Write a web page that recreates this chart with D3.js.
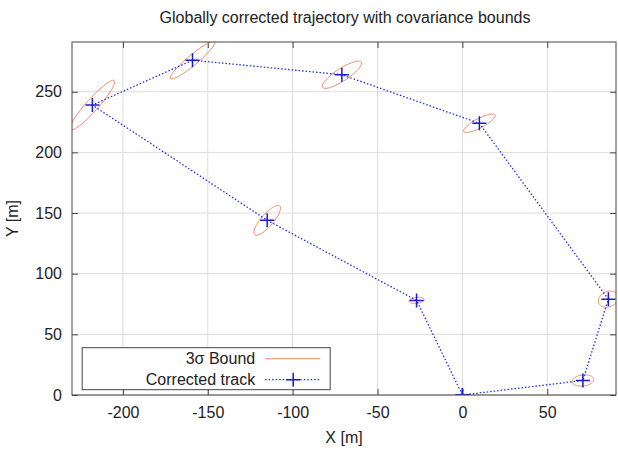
<!DOCTYPE html>
<html>
<head>
<meta charset="utf-8">
<script src="https://cdn.jsdelivr.net/npm/d3@7"></script>
<style>
  body { margin: 0; background: #fff; }
  text { font-family: "Liberation Sans", Arial, sans-serif; fill: #222; }
</style>
</head>
<body>
<div id="chart"></div>
<script>
// corrected track (closed loop), metres
const trackX = [0, 71, 86, 10, -71, -159, -218, -115, -27, 0];
const trackY = [0, 12, 79, 224, 264, 276, 239, 144, 78, 0];

// 3-sigma ellipses at each pose: semi axes (m) and angle (deg, data space)
const ellX = [71, 86, 10, -71, -159, -218, -115, -27];
const ellY = [12, 79, 224, 264, 276, 239, 144, 78];
const ellA = [6.5, 7, 11.5, 15.5, 20, 24, 14, 4.5];
const ellB = [4.5, 5.5, 3.5, 4.5, 3.5, 4, 4, 2.5];
const ellAng = [15, 60, 38, 44, 50, 58, 60, 10];

const xTicks = [-200, -150, -100, -50, 0, 50];
const yTicks = [0, 50, 100, 150, 200, 250];

const width = 618, height = 449;
const margin = { top: 42, right: 2, bottom: 54, left: 72 };
const w = width - margin.left - margin.right;
const h = height - margin.top - margin.bottom;
const fs = '16px';

const svg = d3.select('#chart').append('svg')
  .attr('width', width)
  .attr('height', height);

const g = svg.append('g').attr('transform', `translate(${margin.left},${margin.top})`);

const x = d3.scaleLinear().domain([-230, 90.5]).range([0, w]);
const y = d3.scaleLinear().domain([0, 291]).range([h, 0]);

// grid
g.append('g').selectAll('line').data(xTicks).join('line')
  .attr('x1', d => x(d)).attr('x2', d => x(d))
  .attr('y1', 0).attr('y2', h)
  .attr('stroke', '#dcdcdc').attr('stroke-width', 1);
g.append('g').selectAll('line').data(yTicks).join('line')
  .attr('y1', d => y(d)).attr('y2', d => y(d))
  .attr('x1', 0).attr('x2', w)
  .attr('stroke', '#dcdcdc').attr('stroke-width', 1);

// axes with inward ticks, mirrored
const styleAxis = sel => {
  sel.select('.domain').remove();
  sel.selectAll('line').attr('stroke', '#444');
  sel.selectAll('text').style('font-size', fs).attr('fill', '#222');
};
const fmt = d => String(d);
g.append('g').attr('transform', `translate(0,${h})`)
  .call(d3.axisBottom(x).tickValues(xTicks).tickSizeInner(-6).tickSizeOuter(0).tickPadding(12).tickFormat(fmt))
  .call(styleAxis);
g.append('g')
  .call(d3.axisTop(x).tickValues(xTicks).tickSizeInner(-6).tickSizeOuter(0).tickFormat(''))
  .call(styleAxis);
g.append('g')
  .call(d3.axisLeft(y).tickValues(yTicks).tickSizeInner(-6).tickSizeOuter(0).tickPadding(10).tickFormat(fmt))
  .call(styleAxis);
g.append('g').attr('transform', `translate(${w},0)`)
  .call(d3.axisRight(y).tickValues(yTicks).tickSizeInner(-6).tickSizeOuter(0).tickFormat(''))
  .call(styleAxis);

svg.append('defs').append('clipPath').attr('id', 'clip')
  .append('rect').attr('width', w).attr('height', h);

const plot = g.append('g').attr('clip-path', 'url(#clip)');

// ellipses
const ellLine = d3.line().x(p => x(p[0])).y(p => y(p[1]));
const ellipses = ellX.map((cx, i) => {
  const a = ellA[i], b = ellB[i], th = ellAng[i] * Math.PI / 180;
  return d3.range(0, 73).map(k => {
    const t = k / 72 * 2 * Math.PI;
    const ex = a * Math.cos(t), ey = b * Math.sin(t);
    return [cx + ex * Math.cos(th) - ey * Math.sin(th), ellY[i] + ex * Math.sin(th) + ey * Math.cos(th)];
  });
});
plot.selectAll('.ell').data(ellipses).join('path')
  .attr('class', 'ell')
  .attr('d', ellLine)
  .attr('fill', 'none')
  .attr('stroke', '#f08a6a')
  .attr('stroke-width', 1);

// track
const track = trackX.map((v, i) => [v, trackY[i]]);
plot.append('path')
  .attr('d', d3.line().x(d => x(d[0])).y(d => y(d[1]))(track))
  .attr('fill', 'none')
  .attr('stroke', '#2030e0')
  .attr('stroke-width', 1.3)
  .attr('stroke-dasharray', '1.5,2');

plot.selectAll('.pt').data(track).join('path')
  .attr('class', 'pt')
  .attr('d', 'M-7,0H7M0,-7V7')
  .attr('transform', d => `translate(${x(d[0])},${y(d[1])})`)
  .attr('stroke', '#1a1ad0')
  .attr('stroke-width', 1.5);

// frame
g.append('rect').attr('width', w).attr('height', h)
  .attr('fill', 'none').attr('stroke', '#444').attr('stroke-width', 1);

// legend
const lg = g.append('g').attr('transform', `translate(${x(-224)},${y(39)})`);
lg.append('rect').attr('width', 248).attr('height', 42)
  .attr('fill', '#fff').attr('stroke', '#444').attr('stroke-width', 1);
lg.append('text').attr('x', 173).attr('y', 11).attr('text-anchor', 'end')
  .attr('dy', '0.35em').style('font-size', fs).text('3σ Bound');
lg.append('text').attr('x', 173).attr('y', 32).attr('text-anchor', 'end')
  .attr('dy', '0.35em').style('font-size', fs).text('Corrected track');
lg.append('line').attr('x1', 183).attr('x2', 238).attr('y1', 11).attr('y2', 11)
  .attr('stroke', '#f08a6a').attr('stroke-width', 1);
lg.append('line').attr('x1', 183).attr('x2', 238).attr('y1', 32).attr('y2', 32)
  .attr('stroke', '#2030e0').attr('stroke-width', 1.3).attr('stroke-dasharray', '1.5,2');
lg.append('path').attr('d', 'M-7,0H7M0,-7V7')
  .attr('transform', 'translate(211,32)')
  .attr('stroke', '#1a1ad0').attr('stroke-width', 1.5);

// titles
svg.append('text').attr('x', margin.left + w / 2 + 1).attr('y', 23)
  .attr('text-anchor', 'middle').style('font-size', fs)
  .text('Globally corrected trajectory with covariance bounds');
svg.append('text').attr('x', margin.left + w / 2).attr('y', 443)
  .attr('text-anchor', 'middle').style('font-size', fs).text('X [m]');
svg.append('text').attr('transform', `translate(18,${margin.top + h / 2}) rotate(-90)`)
  .attr('text-anchor', 'middle').style('font-size', fs).text('Y [m]');
</script>
</body>
</html>
